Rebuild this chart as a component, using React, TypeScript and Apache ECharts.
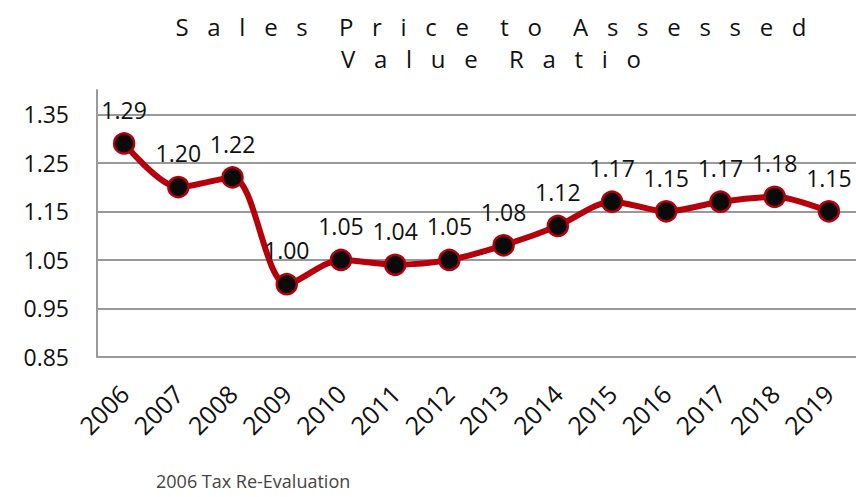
import React, { useEffect, useRef } from "react";
import * as echarts from "echarts";

const years = ["2006","2007","2008","2009","2010","2011","2012","2013","2014","2015","2016","2017","2018","2019"];
const ratios = [1.29, 1.20, 1.22, 1.00, 1.05, 1.04, 1.05, 1.08, 1.12, 1.17, 1.15, 1.17, 1.18, 1.15];
const titleLine1 = "Sales Price to Assessed";
const titleLine2 = "Value Ratio";
const footnote = "2006 Tax Re-Evaluation";

const spaced = (s: string) =>
  s.split(" ").map((w) => w.split("").join("   ")).join("     ");

const FONT = "'Open Sans', 'DejaVu Sans', sans-serif";

export default function App() {
  const ref = useRef<HTMLDivElement>(null);
  useEffect(() => {
    if (!ref.current) return;
    const chart = echarts.init(ref.current, undefined, { renderer: "svg" });
    chart.setOption({
      animation: false,
      backgroundColor: "#ffffff",
      title: {
        text: spaced(titleLine1) + "\n" + spaced(titleLine2),
        left: 486,
        textAlign: "center",
        top: 5,
        textStyle: { fontFamily: FONT, fontSize: 24, fontWeight: "normal", color: "#111", lineHeight: 32 },
      },
      graphic: [
        {
          type: "text",
          left: 156,
          top: 472,
          style: { text: footnote, fontFamily: FONT, fontSize: 18, fill: "#444" },
        },
      ],
      grid: { left: 97, right: -4, top: 90, bottom: 140, containLabel: false },
      xAxis: {
        type: "category",
        data: years,
        boundaryGap: true,
        axisLine: { show: false },
        axisTick: { show: false },
        axisLabel: {
          rotate: 45,
          fontFamily: FONT,
          fontSize: 25,
          color: "#111",
          margin: 32,
        },
      },
      yAxis: {
        type: "value",
        min: 0.85,
        max: 1.4,
        interval: 0.1,
        axisLine: { show: true, lineStyle: { color: "#999", width: 2 } },
        axisTick: { show: false },
        axisLabel: {
          showMaxLabel: false,
          fontFamily: FONT,
          fontSize: 23,
          color: "#111",
          margin: 28,
          formatter: (v: number) => v.toFixed(2),
        },
        splitLine: {
          show: true,
          lineStyle: { color: ["#999", "#999", "#999", "#999", "#999", "#999", "rgba(0,0,0,0)"], width: 2 },
        },
      },
      series: [
        {
          type: "line",
          data: ratios,
          smooth: 0.3,
          lineStyle: { color: "#b5000c", width: 6 },
          symbol: "circle",
          symbolSize: 20,
          itemStyle: { color: "#0a0a0a", borderColor: "#b5000c", borderWidth: 2.5 },
          label: {
            show: true,
            position: "top",
            distance: 11,
            fontFamily: FONT,
            fontSize: 23,
            color: "#111",
            formatter: (p: any) => p.value.toFixed(2),
          },
        },
      ],
    });
    return () => chart.dispose();
  }, []);
  return <div ref={ref} style={{ width: 856, height: 497, position: "absolute", left: 0, top: 0 }} />;
}
